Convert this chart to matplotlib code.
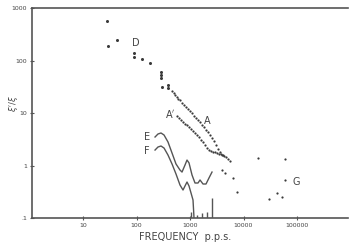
import matplotlib
matplotlib.use("Agg")
import matplotlib.pyplot as plt
import numpy as np

# ---- data ----
d_freq = [28.1, 29.3, 42.7, 91, 91, 125, 179, 287, 287, 287, 304, 393, 393]
d_val = [565, 189, 245, 141, 118, 105, 88.5, 59.6, 53, 45.8, 31.7, 33.7, 29.5]

a_freq = [461, 502, 524, 571, 597, 650, 709, 773, 842, 918, 1000, 1090, 1188,
          1294, 1411, 1538, 1676, 1827, 1991, 2170, 2365, 2578, 2809, 3062,
          3337, 3637, 3964, 4320, 4709, 5131]
a_val = [26.2, 24.0, 22.0, 20.2, 18.5, 17.7, 15.5, 14.2, 13.0, 11.9, 10.9, 10.0,
         8.77, 8.03, 7.36, 6.74, 5.91, 5.41, 4.74, 4.35, 3.81, 3.34, 2.93, 2.46,
         2.06, 1.81, 1.58, 1.52, 1.45, 1.33]

a2_freq = [571, 623, 679, 740, 806, 879, 958, 1044, 1138, 1240, 1351, 1473,
           1606, 1750, 1907, 2079, 2265, 2469, 2691, 2933, 3196, 3484, 3797, 4138]
a2_val = [8.77, 8.03, 7.36, 6.74, 6.17, 5.91, 5.41, 4.96, 4.54, 4.16, 3.81, 3.49,
          3.06, 2.80, 2.46, 2.15, 1.97, 1.89, 1.81, 1.81, 1.73, 1.66, 1.66, 1.58]

g_freq = [3964, 4510, 5592, 6365, 7559, 18660, 59690, 59690, 29970, 42290, 52440]
g_val = [0.82, 0.72, 1.22, 0.58, 0.31, 1.39, 1.33, 0.53, 0.23, 0.30, 0.25]

e_freq = [222, 252, 287, 327, 388, 461, 547, 650, 709, 806, 879, 958, 1090,
          1240, 1411, 1538, 1750, 1991, 2265, 2578]
e_val = [3.49, 3.98, 4.16, 3.81, 2.80, 1.73, 1.07, 0.82, 0.75, 1.02, 1.27, 1.12,
         0.66, 0.464, 0.464, 0.53, 0.444, 0.444, 0.58, 0.75]

f_freq = [222, 252, 287, 327, 388, 461, 547, 650, 740, 806, 879, 958, 1044,
          1138, 1188]
f_val = [1.97, 2.25, 2.35, 2.15, 1.58, 1.07, 0.69, 0.425, 0.341, 0.407, 0.485,
         0.407, 0.30, 0.22, 0.1]

spike_freq = [1044, 1351, 1676, 2079, 2578]
spike_val = [0.130, 0.114, 0.124, 0.130, 0.240]

x_ticks = [10, 100, 1000, 10000, 100000]
x_ticklabels = ["10", "100", "1000", "10000", "100000"]
y_ticks = [0.1, 1, 10, 100, 1000]
y_ticklabels = [".1", "1", "10", "100", "1000"]

ink = "#3a3a3a"

fig = plt.figure(figsize=(3.49, 2.43), dpi=100)
ax = fig.add_axes([32 / 349, 1 - 218 / 243, 316 / 349, 210 / 243])
ax.set_xscale("log")
ax.set_yscale("log")
ax.set_xlim(1.114, 897000)
ax.set_ylim(0.1, 1000)

ax.plot(e_freq, e_val, color="#555555", lw=1.0)
ax.plot(f_freq, f_val, color="#555555", lw=1.0)
ax.vlines(spike_freq, 0.1, spike_val, color="#555555", lw=1.0)

ax.plot(d_freq, d_val, "o", color=ink, ms=2.2, mew=0)
ax.plot(a_freq, a_val, "o", color=ink, ms=1.6, mew=0)
ax.plot(a2_freq, a2_val, "o", color=ink, ms=1.6, mew=0)
ax.plot(g_freq, g_val, "o", color=ink, ms=1.6, mew=0)

for s in ["left", "bottom", "top"]:
    ax.spines[s].set_color("#555555")
    ax.spines[s].set_linewidth(1.2)
ax.spines["right"].set_visible(False)

ax.set_xticks(x_ticks)
ax.set_xticklabels(x_ticklabels)
ax.set_yticks(y_ticks)
ax.set_yticklabels(y_ticklabels)
ax.minorticks_off()
ax.tick_params(axis="both", direction="inout", length=3, width=0.8,
               colors="#555555", labelsize=4.5, labelcolor="#444444", pad=2)

lab = dict(fontsize=7, color="#444444", ha="center", va="center")
def ftxt(px, py, s, **kw):
    fig.text(px / 349, 1 - py / 243, s, **{**lab, **kw})

ftxt(136, 43, "D")
ftxt(207, 121, "A")
ftxt(170, 114, "A$'$")
ftxt(147, 137, "E")
ftxt(147, 151, "F")
ftxt(296, 182, "G")
ftxt(185, 237, "FREQUENCY  p.p.s.", fontsize=7)
ftxt(14, 104, r"$\xi'/\xi$", fontsize=6, rotation=90)

fig.savefig("out.png", dpi=100)
